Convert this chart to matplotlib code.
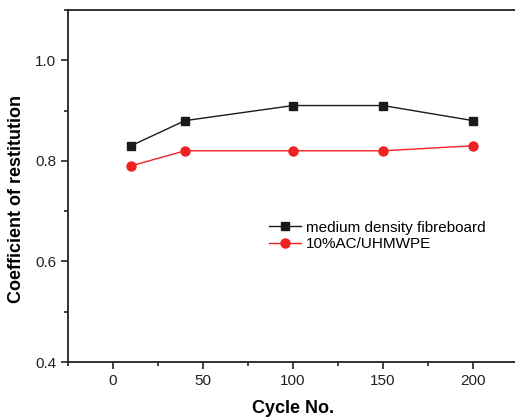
import matplotlib
matplotlib.use("Agg")
import matplotlib.pyplot as plt
from matplotlib.ticker import MultipleLocator

plt.rcParams['font.family'] = ['Liberation Sans', 'DejaVu Sans']

# --- data ---
cycles = [10, 40, 100, 150, 200]
mdf = [0.83, 0.88, 0.91, 0.91, 0.88]
ac_uhmwpe = [0.79, 0.82, 0.82, 0.82, 0.83]
labels = ["medium density fibreboard", "10%AC/UHMWPE"]

fig = plt.figure(figsize=(5.15, 4.2), dpi=100)
ax = fig.add_axes([68 / 515, 58 / 420, 450 / 515, 352 / 420])

ax.plot(cycles, mdf, color="#1a1a1a", marker="s", markersize=6, lw=1.0,
        label=labels[0])
ax.plot(cycles, ac_uhmwpe, color="#ee2222", marker="o", markersize=6.5, lw=1.0,
        label=labels[1])

ax.set_xlim(-25, 225)
ax.set_ylim(0.4, 1.1)
ax.xaxis.set_major_locator(MultipleLocator(50))
ax.xaxis.set_minor_locator(MultipleLocator(25))
ax.yaxis.set_major_locator(MultipleLocator(0.2))
ax.yaxis.set_minor_locator(MultipleLocator(0.1))
ax.yaxis.set_major_formatter(plt.FuncFormatter(lambda v, p: f"{v:.1f}"))

ax.tick_params(which="both", direction="out", top=False, right=False,
               labelsize=11, colors="#222222", width=1.2)
ax.tick_params(which="major", length=5)
ax.tick_params(which="minor", length=3)
for s in ax.spines.values():
    s.set_linewidth(1.3)
    s.set_color("#222222")

ax.set_xlabel("Cycle No.", fontsize=13, fontweight="bold", labelpad=9)
ax.set_ylabel("Coefficient of restitution", fontsize=13, fontweight="bold")
ax.yaxis.set_label_coords(-0.096, 0.463)

ax.legend(loc="upper left", bbox_to_anchor=(0.43, 0.423), frameon=False,
          fontsize=11, handlelength=2.1, handletextpad=0.3, labelspacing=0.15,
          borderpad=0)

fig.savefig("out.png", dpi=100, facecolor="white")
